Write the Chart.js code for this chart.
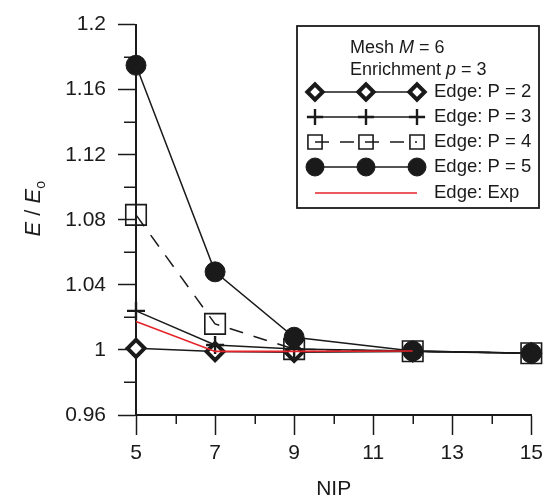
<!DOCTYPE html>
<html>
<head>
<meta charset="utf-8">
<script src="https://cdn.jsdelivr.net/npm/chart.js@4.4.1/dist/chart.umd.min.js"></script>
<style>
  html, body { margin: 0; padding: 0; background: #fff; }
  #wrap { width: 549px; height: 503px; }
</style>
</head>
<body>
<div id="wrap"><canvas id="chart" width="549" height="503"></canvas></div>
<script>
// values
const nip = [5, 7, 9, 12, 15];
const nipExp = [5, 7, 9, 12];
const edgeP2 = [1.001, 0.999, 0.9985, 0.999, 0.998];
const edgeP3 = [1.024, 1.003, 1.0005, 0.9993, 0.998];
const edgeP4 = [1.083, 1.016, 1.0005, 0.9992, 0.998];
const edgeP5 = [1.175, 1.048, 1.0078, 0.9993, 0.998];
const edgeExp = [1.0175, 0.9991, 0.9991, 0.9993];

const xTicks = [5, 7, 9, 11, 13, 15];
const xMinor = [6, 8, 10, 12, 14];
const yTicks = [0.96, 1, 1.04, 1.08, 1.12, 1.16, 1.2];
const yTickLabels = ['0.96', '1', '1.04', '1.08', '1.12', '1.16', '1.2'];
const yMinor = [0.98, 1.02, 1.06, 1.1, 1.14, 1.18];

const FONT = '"Liberation Sans", Arial, Helvetica, sans-serif';
const INK = '#1a1a1a';
const RED = '#e52329';

const toXY = (xs, ys) => xs.map((x, i) => ({ x: x, y: ys[i] }));

const series = [
  { label: 'Edge: P = 2', data: toXY(nip, edgeP2), pointStyle: 'rectRot', pointRadius: 8.5, pointBorderWidth: 4, pointBackgroundColor: '#fff', borderDash: [], order: 4 },
  { label: 'Edge: P = 3', data: toXY(nip, edgeP3), pointStyle: 'cross', pointRadius: 9, pointBorderWidth: 2.4, pointBackgroundColor: INK, borderDash: [], order: 3 },
  { label: 'Edge: P = 4', data: toXY(nip, edgeP4), pointStyle: 'rect', pointRadius: 14.5, pointBorderWidth: 1.6, pointBackgroundColor: 'rgba(0,0,0,0)', borderDash: [14, 11], order: 1 },
  { label: 'Edge: P = 5', data: toXY(nip, edgeP5), pointStyle: 'circle', pointRadius: 10, pointBorderWidth: 1, pointBackgroundColor: INK, borderDash: [], order: 2 },
];

const datasets = series.map(s => ({
  label: s.label,
  data: s.data,
  borderColor: INK,
  borderWidth: 1.5,
  borderDash: s.borderDash,
  pointStyle: s.pointStyle,
  pointRadius: s.pointRadius,
  pointBorderWidth: s.pointBorderWidth,
  pointBorderColor: INK,
  pointBackgroundColor: s.pointBackgroundColor,
  tension: 0,
  fill: false,
  clip: false,
  order: s.order,
}));
datasets.push({
  label: 'Edge: Exp',
  data: toXY(nipExp, edgeExp),
  borderColor: RED,
  borderWidth: 1.6,
  pointRadius: 0,
  tension: 0,
  fill: false,
  clip: false,
  order: 0,
});

// minor ticks, axis titles and the boxed legend
const decorations = {
  id: 'decorations',
  afterDraw(chart) {
    const ctx = chart.ctx;
    const xs = chart.scales.x, ys = chart.scales.y;
    const area = chart.chartArea;
    ctx.save();
    ctx.strokeStyle = INK;
    ctx.lineWidth = 1.5;
    ctx.beginPath();
    yMinor.forEach(v => {
      const py = Math.round(ys.getPixelForValue(v)) + 0.25;
      ctx.moveTo(area.left - 12, py);
      ctx.lineTo(area.left, py);
    });
    xMinor.forEach(v => {
      const px = Math.round(xs.getPixelForValue(v)) + 0.25;
      ctx.moveTo(px, area.bottom);
      ctx.lineTo(px, area.bottom + 9);
    });
    ctx.stroke();

    // x title
    ctx.fillStyle = INK;
    ctx.font = '21px ' + FONT;
    ctx.textAlign = 'center';
    ctx.textBaseline = 'middle';
    ctx.fillText('NIP', (area.left + area.right) / 2, 489);

    // y title: E / E_o
    ctx.save();
    ctx.translate(33, (area.top + area.bottom) / 2 - 11);
    ctx.rotate(-Math.PI / 2);
    ctx.textBaseline = 'alphabetic';
    ctx.textAlign = 'left';
    const parts = [
      { t: 'E', f: 'italic 22px ' + FONT, dy: 0 },
      { t: ' / ', f: '22px ' + FONT, dy: 0 },
      { t: 'E', f: 'italic 22px ' + FONT, dy: 0 },
      { t: 'o', f: '14px ' + FONT, dy: 5 },
    ];
    let w = 0;
    parts.forEach(p => { ctx.font = p.f; w += ctx.measureText(p.t).width; });
    let cx = -w / 2;
    parts.forEach(p => {
      ctx.font = p.f;
      ctx.fillText(p.t, cx, 7 + p.dy);
      cx += ctx.measureText(p.t).width;
    });
    ctx.restore();

    // legend box
    const box = { left: 297, top: 26, right: 539, bottom: 208 };
    ctx.lineWidth = 1.8;
    ctx.strokeStyle = INK;
    ctx.strokeRect(box.left, box.top, box.right - box.left, box.bottom - box.top);

    ctx.textAlign = 'left';
    ctx.textBaseline = 'middle';
    const rich = (pieces, x, y) => {
      pieces.forEach(p => {
        ctx.font = p[1] + ' 18px ' + FONT;
        ctx.fillText(p[0], x, y);
        x += ctx.measureText(p[0]).width;
      });
    };
    rich([['Mesh ', ''], ['M', 'italic'], [' = 6', '']], 350, 48);
    rich([['Enrichment ', ''], ['p', 'italic'], [' = 3', '']], 350, 70);

    const sx = [315, 366, 417];
    const rowY = [92, 117, 142, 167, 193];
    chart.data.datasets.forEach((ds, i) => {
      const y = rowY[i];
      ctx.save();
      ctx.strokeStyle = ds.borderColor;
      ctx.lineWidth = ds.borderWidth;
      ctx.setLineDash(ds.borderDash || []);
      ctx.beginPath();
      ctx.moveTo(sx[0], y);
      ctx.lineTo(sx[2], y);
      ctx.stroke();
      ctx.setLineDash([]);
      if (ds.pointRadius > 0) {
        sx.forEach(px => {
          ctx.fillStyle = ds.pointBackgroundColor;
          ctx.strokeStyle = ds.pointBorderColor;
          ctx.lineWidth = ds.pointBorderWidth;
          Chart.helpers.drawPoint(ctx, {
            pointStyle: ds.pointStyle,
            radius: ds.pointStyle === 'rect' ? 10 : ds.pointRadius * 0.9,
            rotation: 0,
            borderWidth: ds.pointBorderWidth,
          }, px, y);
        });
      }
      ctx.restore();
      ctx.fillStyle = INK;
      ctx.font = '18.5px ' + FONT;
      ctx.fillText(ds.label, 434, y);
    });
    ctx.restore();
  }
};

new Chart(document.getElementById('chart').getContext('2d'), {
  type: 'line',
  data: { datasets: datasets },
  options: {
    responsive: false,
    animation: false,
    devicePixelRatio: 1,
    layout: { padding: { top: 23, right: 16, left: 0, bottom: 0 } },
    plugins: { legend: { display: false }, tooltip: { enabled: false } },
    scales: {
      x: {
        type: 'linear',
        min: 5,
        max: 15,
        afterBuildTicks: s => { s.ticks = xTicks.map(v => ({ value: v })); },
        afterFit: s => { s.height = 88; },
        grid: { drawOnChartArea: false, drawTicks: true, tickLength: 20, tickColor: INK, tickWidth: 1.5 },
        border: { display: true, color: INK, width: 2 },
        ticks: { color: INK, font: { family: FONT, size: 21 }, padding: 6, maxRotation: 0, autoSkip: false },
      },
      y: {
        type: 'linear',
        min: 0.96,
        max: 1.2,
        afterBuildTicks: s => { s.ticks = yTicks.map(v => ({ value: v })); },
        afterFit: s => { s.width = 136; },
        grid: { drawOnChartArea: false, drawTicks: true, tickLength: 18, tickColor: INK, tickWidth: 1.5 },
        border: { display: true, color: INK, width: 2 },
        ticks: {
          color: INK,
          font: { family: FONT, size: 21 },
          padding: 12,
          autoSkip: false,
          callback: (v, i) => yTickLabels[i],
        },
      },
    },
  },
  plugins: [decorations],
});
</script>
</body>
</html>
